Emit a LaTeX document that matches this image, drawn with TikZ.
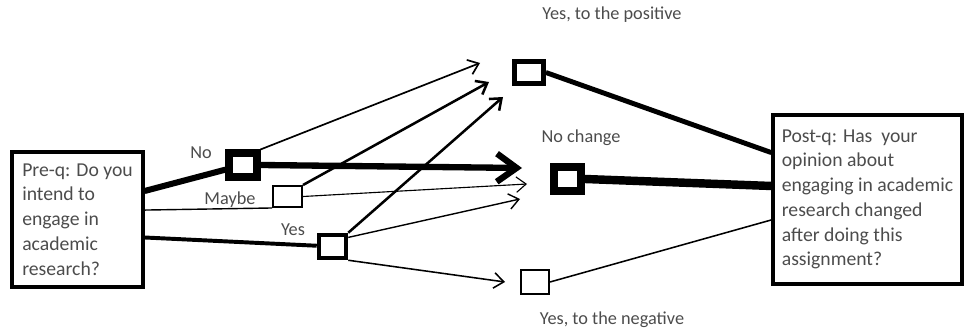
\documentclass[tikz,border=0pt]{standalone}
\usepackage{fontspec}
\setmainfont{Carlito}
\usetikzlibrary{arrows.meta}

\begin{document}
\begin{tikzpicture}[x=0.025cm,y=-0.025cm,
    qbox/.style={draw,line width=2.3pt,align=left,text=black!70,inner xsep=0pt,inner ysep=0pt,
      font=\fontsize{14}{17.6}\selectfont},
    sq/.style={draw,fill=white,inner sep=0pt},
    lbl/.style={text=black!70,inner sep=0pt,font=\fontsize{13}{15}\selectfont},
    barb/.style={-{Straight Barb[length=7pt,width=11pt]}}]
  \useasboundingbox (0,0) rectangle (965,333);
  % question boxes
  \node[qbox,minimum width=3.275cm,minimum height=3.375cm] (pre) at (77.5,219.5)
    {Pre-q: Do you\\intend to\\engage in\\academic\\research?};
  \node[qbox,minimum width=4.725cm,minimum height=4.225cm] (post) at (867.5,199.5)
    {Post-q: Has\ \ your\\opinion about\\engaging in academic\\research changed\\after doing this\\assignment?};
  % answer squares
  \node[sq,line width=5pt,minimum width=0.7cm,minimum height=0.6cm] (no) at (243,165) {};
  \node[sq,line width=1.4pt,minimum width=0.725cm,minimum height=0.525cm] (maybe) at (287.5,196.5) {};
  \node[sq,line width=3.2pt,minimum width=0.675cm,minimum height=0.575cm] (yes) at (332.5,246.5) {};
  \node[sq,line width=3.4pt,minimum width=0.725cm,minimum height=0.55cm] (pos) at (529,72.5) {};
  \node[sq,line width=5.7pt,minimum width=0.675cm,minimum height=0.6cm] (nochange) at (567.5,179) {};
  \node[sq,line width=1.4pt,minimum width=0.7cm,minimum height=0.6cm] (neg) at (535,282) {};
  % labels
  \node[lbl] (lno) at (201,153) {No};
  \node[lbl] (lmaybe) at (230,200) {Maybe};
  \node[lbl] (lyes) at (293,230) {Yes};
  \node[lbl] (lnochange) at (581,138) {No change};
  \node[lbl] (lpos) at (612,15) {Yes, to the positive};
  \node[lbl] (lneg) at (612,320) {Yes, to the negative};
  % arrow tips
  \coordinate (tpos1) at (480,63);
  \coordinate (tpos2) at (489,82);
  \coordinate (tpos3) at (503,97);
  \coordinate (tnc1) at (522,168);
  \coordinate (tnc2) at (527,184);
  \coordinate (tnc3) at (520,199);
  \coordinate (tneg) at (505,282);
  % pre-q to answers
  \draw[line width=4.3pt] (pre.23) -- (no);
  \draw[line width=1pt] (pre.8) -- (maybe.south west);
  \draw[line width=2.8pt] (pre.-15) -- (yes);
  % answers to changes
  \draw[barb,line width=1.2pt] (no.north east) -- (tpos1);
  \draw[line width=4.5pt,-{Straight Barb[length=14pt,width=20pt]}] (no.east) -- (tnc1);
  \draw[barb,line width=1.8pt] (maybe.north east) -- (tpos2);
  \draw[barb,line width=0.8pt] (maybe.east) -- (tnc2);
  \draw[barb,line width=1.8pt] (yes.north east) -- (tpos3);
  \draw[barb,line width=1pt] (yes.30) -- (tnc3);
  \draw[barb,line width=1.1pt] (yes.south east) -- (tneg);
  % changes to post-q
  \draw[line width=3.5pt] (pos.east) -- (post.154);
  \draw[line width=6pt] (nochange.east) -- (post.172);
  \draw[line width=1.1pt] (neg.east) -- (post.192);
\end{tikzpicture}
\end{document}
